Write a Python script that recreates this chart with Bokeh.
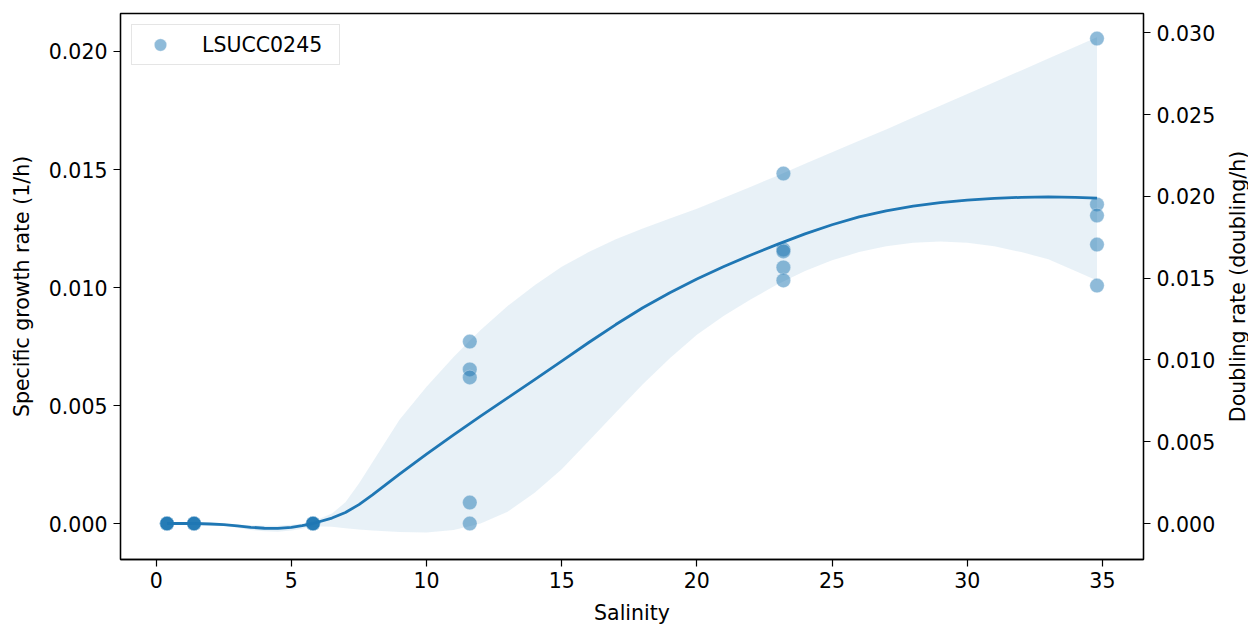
import math

from bokeh.core.properties import value
from bokeh.embed import file_html
from bokeh.layouts import column, row
from bokeh.models import (ColumnDataSource, FixedTicker, Legend, LegendItem,
                          LinearAxis, NumeralTickFormatter, Range1d)
from bokeh.plotting import figure
from bokeh.resources import INLINE

# --- measured growth rates (1/h), five replicates per salinity ---
salinity_levels = [0.4, 1.4, 5.8, 11.6, 23.2, 34.8]
growth_s0_4 = [0.0, 0.0, 0.0, 0.0, 0.0]
growth_s1_4 = [0.0, 0.0, 0.0, 0.0, 0.0]
growth_s5_8 = [0.0, 0.0, 0.0, 0.0, 0.0]
growth_s11_6 = [0.00771, 0.00653, 0.00619, 0.00089, 0.0]
growth_s23_2 = [0.01483, 0.01161, 0.01153, 0.01085, 0.01030]
growth_s34_8 = [0.02055, 0.01352, 0.01305, 0.01182, 0.01008]

# --- smoothed fit with its confidence band ---
fit_salinity = [0.4, 1.4, 2.0, 2.5, 3.0, 3.5, 4.0, 4.5, 5.0, 5.4, 5.8, 6.5,
                7.0, 7.5, 8.0, 9.0, 10.0, 11.0, 12.0, 13.0, 14.0, 15.0, 16.0,
                17.0, 18.0, 19.0, 20.0, 21.0, 22.0, 23.0, 24.0, 25.0, 26.0,
                27.0, 28.0, 29.0, 30.0, 31.0, 32.0, 33.0, 34.0, 34.8]
fit_growth = [0.0, 0.0, -0.00002, -0.00005, -0.00010, -0.00016, -0.00020,
              -0.00021, -0.00016, -0.00009, 0.0, 0.00023, 0.00047, 0.00080,
              0.00121, 0.00209, 0.00294, 0.00376, 0.00455, 0.00532, 0.00610,
              0.00688, 0.00767, 0.00843, 0.00914, 0.00978, 0.01036, 0.01089,
              0.01138, 0.01184, 0.01227, 0.01266, 0.01299, 0.01325, 0.01345,
              0.01360, 0.01370, 0.01378, 0.01382, 0.01384, 0.01382, 0.01379]
fit_upper = [0.00003, 0.00002, 0.00001, -0.00001, -0.00004, -0.00007,
             -0.00010, -0.00009, -0.00005, -0.00001, 0.00008, 0.00042,
             0.00090, 0.00170, 0.00260, 0.00440, 0.00580, 0.00705, 0.00820,
             0.00922, 0.01010, 0.01088, 0.01150, 0.01204, 0.01250, 0.01292,
             0.01334, 0.01380, 0.01427, 0.01475, 0.01524, 0.01573, 0.01622,
             0.01670, 0.01720, 0.01770, 0.01820, 0.01870, 0.01920, 0.01970,
             0.02020, 0.02060]
fit_lower = [-0.00003, -0.00002, -0.00005, -0.00010, -0.00018, -0.00027,
             -0.00033, -0.00035, -0.00030, -0.00022, -0.00012, -0.00014,
             -0.00020, -0.00025, -0.00030, -0.00036, -0.00038, -0.00028,
             0.0, 0.00050, 0.00130, 0.00230, 0.00350, 0.00470, 0.00590,
             0.00700, 0.00800, 0.00880, 0.00950, 0.01015, 0.01070, 0.01115,
             0.01150, 0.01175, 0.01190, 0.01195, 0.01190, 0.01175, 0.01150,
             0.01120, 0.01070, 0.01030]

x_ticks = [0, 5, 10, 15, 20, 25, 30, 35]
growth_ticks = [0.0, 0.005, 0.010, 0.015, 0.020]
doubling_ticks = [0.0, 0.005, 0.010, 0.015, 0.020, 0.025, 0.030]

x_title = "Salinity"
y_title = "Specific growth rate (1/h)"
y2_title = "Doubling rate (doubling/h)"
series_name = "LSUCC0245"

LN2 = math.log(2.0)
BLUE = "#1f77b4"
FONT = "DejaVu Sans"
FSIZE = "20.5px"

# flatten replicates into one table of points
replicate_sets = [growth_s0_4, growth_s1_4, growth_s5_8,
                  growth_s11_6, growth_s23_2, growth_s34_8]
pt_x, pt_y = [], []
for s, reps in zip(salinity_levels, replicate_sets):
    for g in reps:
        pt_x.append(s)
        pt_y.append(g)
points = ColumnDataSource(dict(salinity=pt_x, growth=pt_y))
fit = ColumnDataSource(dict(salinity=fit_salinity, growth=fit_growth,
                            lower=fit_lower, upper=fit_upper))

# overall page geometry (pixels)
PAGE_W, PAGE_H = 1248, 625
SIDE_W = 22          # strip holding the right-hand axis title
FOOT_H = 25          # strip holding the x-axis title
FRAME_L, FRAME_R, FRAME_T, FRAME_B = 120, 1143, 13, 559

MAIN_W = PAGE_W - SIDE_W
MAIN_H = PAGE_H - FOOT_H

x_lo, x_hi = -1.32, 36.52
y_lo, y_hi = -0.001525, 0.02161

p = figure(width=MAIN_W, height=MAIN_H, output_backend="svg",
           toolbar_location=None,
           x_range=Range1d(x_lo, x_hi), y_range=Range1d(y_lo, y_hi),
           min_border_left=FRAME_L, min_border_right=MAIN_W - FRAME_R,
           min_border_top=FRAME_T, min_border_bottom=MAIN_H - FRAME_B)
# doubling rate = specific growth rate / ln 2
p.extra_y_ranges = {"doubling": Range1d(y_lo / LN2, y_hi / LN2)}

p.xgrid.visible = False
p.ygrid.visible = False
p.outline_line_color = "black"
p.outline_line_width = 1.3
p.outline_line_alpha = 1.0
p.background_fill_color = "white"
p.border_fill_color = "white"

sc = p.scatter("salinity", "growth", source=points, size=14.5,
               fill_color=BLUE, fill_alpha=0.5,
               line_color="white", line_alpha=0.4, line_width=0.8)
p.varea(x="salinity", y1="lower", y2="upper", source=fit,
        fill_color=BLUE, fill_alpha=0.1)
p.line("salinity", "growth", source=fit, line_color=BLUE, line_width=2.8,
       line_join="round")

right = LinearAxis(y_range_name="doubling")
p.add_layout(right, "right")


def style_axis(ax):
    ax.major_tick_out = 7
    ax.major_tick_in = 0
    ax.minor_tick_out = 0
    ax.minor_tick_in = 0
    ax.major_tick_line_width = 1.2
    ax.axis_line_width = 1.3
    ax.major_label_text_font = FONT
    ax.major_label_text_font_size = FSIZE
    ax.major_label_text_color = "black"
    ax.major_label_standoff = 6
    ax.axis_label_text_font = FONT
    ax.axis_label_text_font_size = FSIZE
    ax.axis_label_text_font_style = "normal"
    ax.axis_label_text_color = "black"


xa = p.xaxis[0]
style_axis(xa)
xa.ticker = FixedTicker(ticks=x_ticks)
xa.major_label_standoff = 5

ya = p.yaxis[0]
style_axis(ya)
ya.ticker = FixedTicker(ticks=growth_ticks)
ya.formatter = NumeralTickFormatter(format="0.000")
ya.axis_label = y_title
ya.axis_label_standoff = 12

style_axis(right)
right.ticker = FixedTicker(ticks=doubling_ticks)
right.formatter = NumeralTickFormatter(format="0.000")

legend = Legend(items=[LegendItem(label=series_name, renderers=[sc])],
                location="top_left", margin=11, padding=4,
                glyph_height=31, glyph_width=48, label_height=31,
                label_width=133,
                label_standoff=18, label_text_font=FONT,
                label_text_font_size=FSIZE, label_text_color="black",
                border_line_color="#cccccc", border_line_width=1.2,
                background_fill_alpha=0.8)
p.add_layout(legend)


def blank_strip(w, h, xr, yr, **borders):
    f = figure(width=w, height=h, output_backend="svg", toolbar_location=None,
               x_range=xr, y_range=yr, x_axis_location=None,
               y_axis_location=None, min_border=0, **borders)
    f.xgrid.visible = False
    f.ygrid.visible = False
    f.outline_line_color = None
    f.background_fill_color = "white"
    f.border_fill_color = "white"
    return f


title_style = dict(text_font=value(FONT), text_font_size=value(FSIZE),
                   text_color="black", text_font_style="normal")

# right-hand title, reading bottom-to-top, centred on the plot frame
side = blank_strip(SIDE_W, MAIN_H, Range1d(0, SIDE_W), Range1d(y_lo, y_hi),
                   min_border_top=FRAME_T, min_border_bottom=MAIN_H - FRAME_B)
side.text(x=[11], y=[(y_lo + y_hi) / 2], text=[y2_title], angle=90,
          angle_units="deg", text_align="center", text_baseline="alphabetic",
          **title_style)

# x-axis title below the tick labels
foot = blank_strip(PAGE_W, FOOT_H, Range1d(0, PAGE_W), Range1d(0, FOOT_H))
foot.text(x=[(FRAME_L + FRAME_R) / 2], y=[13], text=[x_title],
          text_align="center", text_baseline="alphabetic", **title_style)

page = column(row(p, side, spacing=0), foot, spacing=0)

open("out.html", "w").write(file_html(page, INLINE))
